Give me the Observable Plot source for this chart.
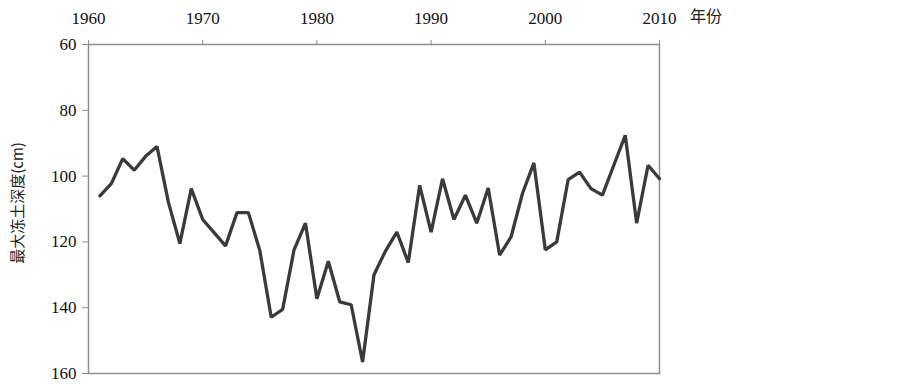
<!DOCTYPE html>
<html>
<head>
<meta charset="utf-8">
<script src="https://cdn.jsdelivr.net/npm/d3@7"></script>
<script src="https://cdn.jsdelivr.net/npm/@observablehq/plot@0.6"></script>
<style>
  body { margin: 0; background: #fff; }
  #wrap { position: relative; width: 903px; height: 384px; overflow: hidden; }
  #ylab { position: absolute; left: 16px; top: 203px; transform: translate(-50%, -50%) rotate(-90deg);
          font-family: "Noto Sans CJK SC", sans-serif; font-size: 15px; color: #222; white-space: nowrap; }
  #xlab { position: absolute; left: 690px; top: 3px; font-family: "Noto Sans CJK SC", sans-serif; font-size: 16px; color: #222; }
  svg text { font-family: "Liberation Serif", serif !important; }
</style>
</head>
<body>
<div id="wrap">
  <div id="ylab">最大冻土深度(cm)</div>
  <div id="xlab">年份</div>
</div>
<script>
const years = [1961,1962,1963,1964,1965,1966,1967,1968,1969,1970,
               1971,1972,1973,1974,1975,1976,1977,1978,1979,1980,
               1981,1982,1983,1984,1985,1986,1987,1988,1989,1990,
               1991,1992,1993,1994,1995,1996,1997,1998,1999,2000,
               2001,2002,2003,2004,2005,2006,2007,2008,2009,2010];
const depth = [106,102.3,94.7,98.2,94,91,108,120.5,103.8,113.2,
               117.2,121.2,111.1,111.1,122.6,142.9,140.5,122.4,114.3,137.3,
               125.9,138.2,139.1,156.5,130,122.8,117,126.3,102.8,117,
               100.8,113.2,105.8,114.3,103.6,124,118.5,105.3,96,122.4,
               120,101.1,98.8,103.8,105.8,96.7,87.6,114.3,96.7,100.8];
const xTicks = [1960,1970,1980,1990,2000,2010];
const yTicks = [60,80,100,120,140,160];

const data = years.map((y, i) => ({year: y, depth: depth[i]}));

const chart = Plot.plot({
  width: 903,
  height: 384,
  marginLeft: 88,
  marginRight: 244,
  marginTop: 44,
  marginBottom: 11,
  style: {fontFamily: "'Liberation Serif', serif", fontSize: "17px", color: "#111", background: "transparent"},
  x: {domain: [1960, 2010]},
  y: {domain: [60, 160], reverse: true},
  marks: [
    Plot.frame({stroke: "#8f8f8f", strokeWidth: 1.5}),
    Plot.axisX({anchor: "top", ticks: xTicks, tickFormat: d => String(d), tickSize: 5, tickPadding: 16, stroke: "#8f8f8f", label: null, fontFamily: "Liberation Serif", fontSize: 17}),
    Plot.axisY({anchor: "left", ticks: yTicks, tickSize: 6, tickPadding: 6, stroke: "#8f8f8f", label: null, fontFamily: "Liberation Serif", fontSize: 17}),
    Plot.line(data, {x: "year", y: "depth", stroke: "#3a3a3a", strokeWidth: 3.3, strokeLinejoin: "miter"})
  ]
});
document.getElementById("wrap").prepend(chart);
</script>
</body>
</html>
